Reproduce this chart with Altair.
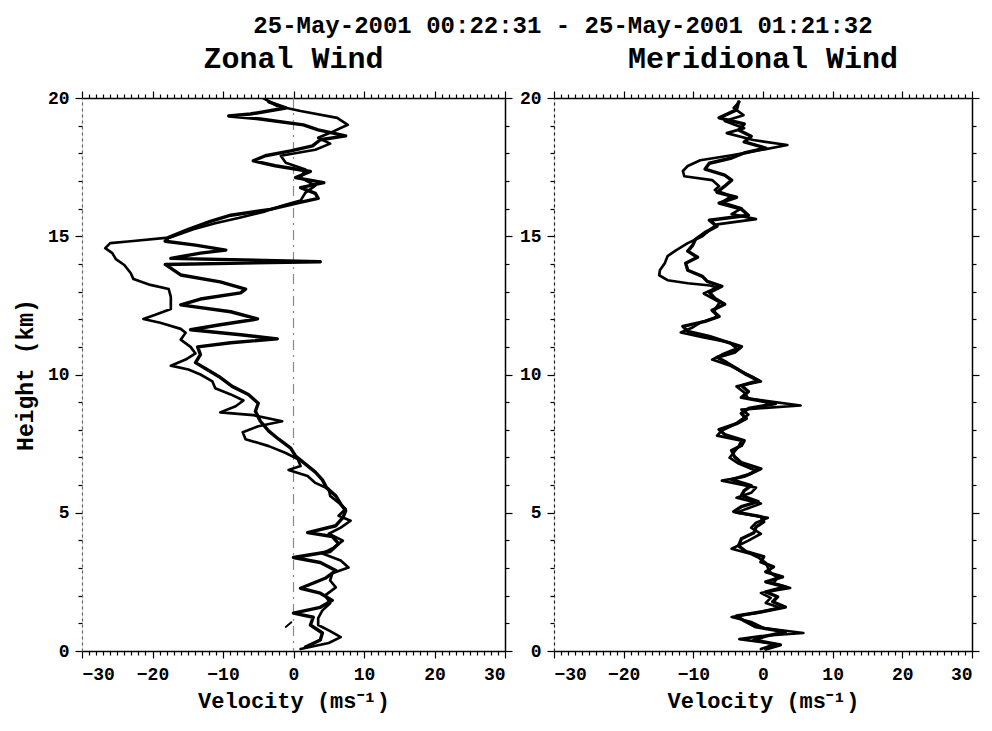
import altair as alt
import pandas as pd

# ---------------- data ----------------
title_text = "25-May-2001 00:22:31 - 25-May-2001 01:21:32"
panel_titles = ["Zonal Wind", "Meridional Wind"]
x_title = "Velocity (ms\u207b\u00b9)"
y_title = "Height (km)"

# Zonal wind, thin profile
zonal_thin_h = [20.0, 19.71, 19.53, 19.28, 19.03, 18.74, 18.56, 18.35, 18.13, 17.91, 17.66, 17.41, 17.12, 16.83, 16.58,
                16.29, 16.12, 15.9, 15.68, 15.47, 15.25, 14.96, 14.82, 14.75, 14.57, 14.39, 14.17, 13.96, 13.67, 13.45,
                13.24, 13.09, 12.81, 12.37, 12.16, 12.01, 11.87, 11.65, 11.51, 11.26, 11.0, 10.76, 10.54, 10.32, 10.18,
                10.0, 9.75, 9.5, 9.28, 9.06, 8.85, 8.63, 8.53, 8.31, 8.13, 7.91, 7.66, 7.41, 7.16, 6.94, 6.69, 6.55,
                6.33, 6.08, 5.86, 5.61, 5.36, 5.14, 4.89, 4.71, 4.46, 4.24, 3.99, 3.74, 3.53, 3.27, 3.02, 2.81, 2.55,
                2.3, 2.01, 1.73, 1.47, 1.19, 0.94, 0.72, 0.5, 0.29, 0.07]
zonal_thin_v = [-4.3, -2.3, 1.0, 6.2, 7.7, 5.2, 3.5, 5.2, 3.1, -1.8, -1.1, 1.7, 1.0, 3.1, 1.7, 1.0, -1.4, -4.0, -7.5,
                -11.1, -14.2, -17.4, -23.1, -26.0, -26.7, -25.7, -25.2, -24.0, -23.1, -22.7, -20.3, -17.7, -17.4,
                -17.4, -19.6, -21.3, -18.9, -16.0, -15.3, -16.0, -14.6, -13.9, -15.3, -17.4, -14.9, -13.2, -11.5,
                -11.1, -8.9, -7.1, -8.2, -10.4, -5.7, -1.6, -5.0, -7.2, -6.8, -3.5, -1.1, 0.6, 1.0, -0.7, 2.0, 3.1,
                5.0, 5.2, 6.4, 7.4, 6.4, 8.1, 6.7, 5.0, 7.0, 5.7, 4.1, 6.7, 7.8, 5.5, 5.2, 6.0, 4.5, 5.2, 4.1, 3.5,
                3.5, 5.2, 6.7, 5.0, 1.0]

# Zonal wind, thick profile
zonal_thick_h = [19.86, 19.64, 19.42, 19.35, 19.24, 19.03, 18.85, 18.63, 18.49, 18.27, 18.09, 17.91, 17.73, 17.55,
                 17.34, 17.12, 16.94, 16.76, 16.55, 16.37, 16.19, 15.97, 15.76, 15.54, 15.25, 14.96, 14.82, 14.68,
                 14.5, 14.39, 14.2, 14.08, 13.98, 13.6, 13.35, 13.09, 12.95, 12.73, 12.52, 12.27, 12.01, 11.8, 11.62,
                 11.44, 11.29, 11.15, 11.0, 10.72, 10.43, 10.22, 9.93, 9.57, 9.28, 8.96, 8.67, 8.31, 7.95, 7.66, 7.34,
                 7.05, 6.76, 6.47, 6.19, 5.9, 5.61, 5.32, 5.07, 4.82, 4.53, 4.28, 4.14, 3.88, 3.6, 3.38, 3.2, 2.91,
                 2.63, 2.27, 2.09, 1.83, 1.58, 1.37, 1.22, 0.94, 0.65, 0.4, 0.14]
zonal_thick_v = [-3.5, -1.1, -6.1, -9.2, -4.7, 1.4, 3.5, 7.4, 3.8, 2.7, -0.4, -4.0, -5.7, -2.6, 2.4, 0.3, 4.3, 1.0,
                 3.1, 3.5, 0.3, -3.3, -8.9, -11.8, -14.9, -17.7, -18.2, -13.9, -9.6, -13.2, -17.4, 3.8, -18.2, -16.0,
                 -10.4, -6.8, -7.5, -13.2, -16.0, -8.9, -5.1, -10.4, -14.6, -7.5, -2.3, -8.9, -13.6, -13.2, -13.9,
                 -12.5, -10.6, -8.7, -6.4, -5.0, -5.4, -4.7, -3.5, -2.1, -0.4, 0.3, 1.7, 3.1, 4.1, 4.7, 6.0, 6.7, 7.4,
                 7.0, 6.0, 2.0, 5.5, 6.4, 5.2, 0.0, 3.8, 6.0, 4.5, 1.0, 3.8, 5.5, 3.8, 0.0, 2.8, 2.4, 4.1, 3.8, 1.7]

# Zonal wind, short detached fragment near 1 km
zonal_frag_h = [0.87, 1.04]
zonal_frag_v = [-1.1, -0.3]

# Meridional wind, thin profile
merid_thin_h = [19.86, 19.64, 19.38, 19.17, 18.91, 18.73, 18.48, 18.30, 18.12, 17.93, 17.75, 17.54, 17.36, 17.17,
                17.03, 16.81, 16.67, 16.45, 16.23, 16.01, 15.80, 15.62, 15.43, 15.22, 15.0, 14.75, 14.49, 14.28,
                14.02, 13.77, 13.59, 13.41, 13.30, 13.22, 13.15, 12.93, 12.61, 12.32, 12.07, 11.88, 11.70, 11.52,
                11.34, 11.16, 10.94, 10.72, 10.54, 10.33, 10.11, 9.89, 9.75, 9.57, 9.35, 9.13, 8.88, 8.73, 8.55,
                8.37, 8.19, 7.97, 7.79, 7.61, 7.39, 7.21, 6.99, 6.78, 6.52, 6.30, 6.16, 5.91, 5.72, 5.54, 5.33, 5.14,
                5.0, 4.82, 4.64, 4.46, 4.24, 3.99, 3.70, 3.51, 3.37, 3.19, 3.01, 2.83, 2.64, 2.46, 2.28, 2.10, 1.92,
                1.74, 1.56, 1.38, 1.23, 1.05, 0.83, 0.65, 0.54, 0.43, 0.25, 0.07]
merid_thin_v = [-3.4, -4.2, -2.8, -5.5, -2.7, -5.2, -1.4, 3.5, -0.3, -4.5, -9.0, -10.8, -11.5, -11.3, -7.3, -6.3,
                -6.9, -4.5, -5.9, -3.1, -4.5, -1.0, -6.6, -7.7, -8.7, -10.8, -12.5, -13.7, -14.1, -14.8, -14.9,
                -13.7, -10.8, -7.6, -6.6, -8.5, -6.2, -7.0, -6.6, -9.0, -10.1, -11.8, -8.5, -4.8, -3.8, -5.9, -7.3,
                -4.8, -3.1, -1.3, -0.3, -3.8, -2.7, -2.1, 5.4, -3.1, -2.1, -3.1, -4.1, -5.9, -6.6, -3.1, -3.5, -4.1,
                -4.8, -3.5, -1.0, -2.7, -5.9, -1.0, -1.7, -3.8, -0.3, -2.4, -3.8, 0.7, -1.0, -1.7, -0.3, -2.1, -4.5,
                -1.7, -0.6, 0.4, 0.7, 1.1, 2.1, 1.5, 3.9, -0.3, 1.1, 0.4, 2.5, -1.0, -4.5, -1.7, 0.1, 5.8, -0.3,
                -3.4, 1.8, -0.3]

# Meridional wind, thick profile
merid_thick_h = [19.86, 19.57, 19.28, 19.06, 18.84, 18.62, 18.41, 18.19, 18.01, 17.83, 17.64, 17.43, 17.21, 17.03,
                 16.81, 16.59, 16.41, 16.20, 15.98, 15.76, 15.58, 15.36, 15.14, 14.89, 14.67, 14.46, 14.24, 14.02,
                 13.77, 13.55, 13.37, 13.19, 12.97, 12.75, 12.54, 12.32, 12.10, 11.92, 11.74, 11.56, 11.38, 11.20,
                 11.01, 10.80, 10.62, 10.43, 10.22, 10.0, 9.78, 9.60, 9.38, 9.17, 8.95, 8.77, 8.59, 8.41, 8.22, 8.01,
                 7.83, 7.61, 7.43, 7.25, 7.03, 6.81, 6.59, 6.38, 6.20, 5.98, 5.80, 5.62, 5.40, 5.22, 5.04, 4.86,
                 4.67, 4.49, 4.28, 4.06, 3.80, 3.59, 3.41, 3.22, 3.04, 2.86, 2.68, 2.50, 2.32, 2.14, 1.96, 1.78,
                 1.59, 1.41, 1.27, 1.09, 0.87, 0.69, 0.54, 0.40, 0.22, 0.07]
merid_thick_v = [-3.5, -3.8, -6.3, -2.7, -3.5, -1.7, -2.7, 0.4, -2.7, -4.5, -7.7, -8.3, -5.5, -4.5, -5.5, -6.6,
                 -3.8, -6.3, -3.1, -2.1, -7.7, -6.6, -8.3, -9.7, -10.1, -10.8, -9.4, -11.1, -10.8, -8.7, -8.0, -5.9,
                 -7.7, -6.9, -5.5, -7.3, -6.3, -8.3, -11.5, -10.8, -7.7, -5.5, -3.1, -4.1, -6.6, -5.2, -3.8, -2.4,
                 -0.7, -3.1, -2.1, -3.1, 1.8, -2.1, -3.1, -2.4, -3.8, -6.3, -5.5, -2.7, -3.1, -4.5, -4.1, -3.1, -0.3,
                 -2.1, -4.5, -1.7, -2.7, -3.1, -0.7, -3.1, -4.2, -0.3, 0.1, -1.0, -1.3, -3.1, -3.5, -2.4, 0.1, -0.3,
                 1.5, 0.4, 2.8, 0.4, 3.2, 0.4, 2.1, 1.4, 3.2, -0.3, -3.8, -2.7, -1.0, 3.2, 0.4, -1.3, 2.5, 0.4]

x_minor = list(range(-30, 31))
y_minor = list(range(0, 21))

# ---------------- build tables ----------------
def table(parts):
    rows = []
    for name, hs, vs in parts:
        for i, (h, v) in enumerate(zip(hs, vs)):
            rows.append({"series": name, "idx": i, "h": h, "v": v})
    return pd.DataFrame(rows)

zonal_df = table([("thick", zonal_thick_h, zonal_thick_v),
                  ("thin", zonal_thin_h, zonal_thin_v),
                  ("frag", zonal_frag_h, zonal_frag_v)])
merid_df = table([("thick", merid_thick_h, merid_thick_v),
                  ("thin", merid_thin_h, merid_thin_v)])

FONT = "Liberation Mono"
H = 553
xs = alt.Scale(domain=[-30, 30], nice=False, zero=False)
ys = alt.Scale(domain=[0, 20], nice=False, zero=False)

x_tick = {"condition": {"test": "datum.value % 10 === 0", "value": 7}, "value": 4}
y_tick = {"condition": {"test": "datum.value % 5 === 0", "value": 7}, "value": 4}


def panel(df, title, ytitle, show_zero, left_dash, width):
    lines = alt.Chart(df).mark_line(color="black", strokeJoin="round", strokeCap="round", clip=True).encode(
        x=alt.X("v:Q", scale=xs, axis=alt.Axis(
            values=x_minor, labelExpr="datum.value % 10 === 0 ? datum.label : ''",
            labelOverlap=False, tickSize=x_tick, title=x_title, grid=False,
            domainColor="black", domainWidth=1.5, tickColor="black", tickWidth=1.2,
            labelFont=FONT, labelFontWeight="bold", labelFontSize=18, labelColor="black", labelPadding=7,
            titleFont=FONT, titleFontWeight="bold", titleFontSize=22, titleColor="black", titlePadding=7)),
        y=alt.Y("h:Q", scale=ys, axis=alt.Axis(
            values=y_minor, labelExpr="datum.value % 5 === 0 ? datum.label : ''",
            labelOverlap=False, tickSize=y_tick, title=ytitle, grid=False,
            domainColor="#666" if left_dash else "#222", domainDash=[3, 3], domainWidth=1.2,
            tickColor="black", tickWidth=1.2,
            labelFont=FONT, labelFontWeight="bold", labelFontSize=18, labelColor="black", labelPadding=6,
            titleFont=FONT, titleFontWeight="bold", titleFontSize=23, titleColor="black", titlePadding=10)),
        detail="series:N",
        order="idx:Q",
        strokeWidth=alt.StrokeWidth("series:N", scale=alt.Scale(domain=["thick", "thin", "frag"],
                                                               range=[3.4, 1.9, 3.2]), legend=None),
    )
    frame = alt.Chart(pd.DataFrame({"v": [0], "h": [0]})).mark_point(opacity=0).encode(
        x=alt.X("v:Q", scale=xs, axis=alt.Axis(
            orient="top", values=x_minor, labels=False, title=None, grid=False, tickSize=x_tick,
            domainColor="black", domainWidth=1.5, tickColor="black", tickWidth=1.2)),
        y=alt.Y("h:Q", scale=ys, axis=alt.Axis(
            orient="right", values=y_minor, labels=False, title=None, grid=False, tickSize=y_tick,
            domainColor="black", domainWidth=1.5, tickColor="black", tickWidth=1.2)),
    )
    layers = [lines, frame]
    if show_zero:
        zero = alt.Chart(pd.DataFrame({"v": [0]})).mark_rule(
            color="#888", strokeWidth=1.2, strokeDash=[10, 5, 2, 5]).encode(
            x=alt.X("v:Q", scale=xs, axis=None))
        layers.insert(0, zero)
    return alt.layer(*layers).resolve_axis(x="independent", y="independent").properties(
        width=width, height=H,
        title=alt.TitleParams(title, font=FONT, fontWeight="bold", fontSize=30, color="black",
                              anchor="middle", offset=15))


left = panel(zonal_df, panel_titles[0], y_title, True, True, 423)
right = panel(merid_df, panel_titles[1], None, False, False, 418)

chart = alt.hconcat(left, right, spacing=4).properties(
    padding={"left": 5, "top": 5, "right": 0, "bottom": 6},
    title=alt.TitleParams(title_text, font=FONT, fontWeight="bold", fontSize=24, color="black",
                          anchor="middle", dx=66, dy=5, offset=11)
).configure_view(stroke=None).configure(background="white")

chart.save("out.html", embed_options={"renderer": "svg", "actions": False})
